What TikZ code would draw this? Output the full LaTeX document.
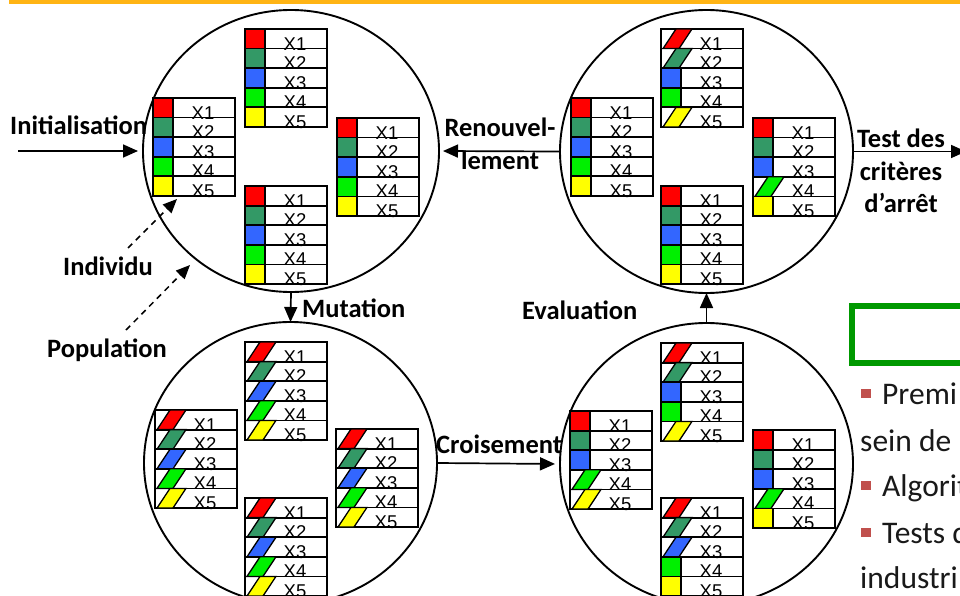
\documentclass[tikz,border=0pt]{standalone}
\usepackage{fontspec}
\setmainfont{Carlito}
\newfontfamily\xfont{Liberation Sans}
\usetikzlibrary{arrows.meta,shapes.geometric}
\definecolor{orangebar}{RGB}{255,180,20}
\definecolor{cr}{RGB}{255,0,0}
\definecolor{cd}{RGB}{51,153,102}
\definecolor{cb}{RGB}{51,102,255}
\definecolor{cg}{RGB}{0,240,0}
\definecolor{cy}{RGB}{255,255,0}
\definecolor{gbox}{RGB}{0,153,0}
\definecolor{bul}{RGB}{192,80,77}
\tikzset{
  tbl/.style={line width=1.8pt, line join=miter},
  xlab/.style={font=\xfont\fontsize{18.5}{20}\selectfont, inner sep=0, anchor=base},
  lbl/.style={font=\bfseries\fontsize{26.5}{30}\selectfont, inner sep=0, anchor=base west},
  lblc/.style={font=\bfseries\fontsize{26.5}{30}\selectfont, inner sep=0, anchor=base},
  body/.style={font=\fontsize{31.5}{36}\selectfont, inner sep=0, anchor=base west, text=black!90},
  arr/.style={line width=1.7pt, -{Triangle[length=15pt,width=13pt]}},
  darr/.style={line width=1.5pt, dash pattern=on 6pt off 5pt, -{Triangle[length=14pt,width=12pt]}},
  pop/.style={ellipse, draw, line width=1.9pt, inner sep=0, outer sep=0},
}
\newcommand\indiv[4]{%
  \foreach \c/\k [count=\i] in {#4} {
    \pgfmathsetmacro\yt{#3+(\i-1)*19.6}
    \pgfmathsetmacro\yb{#3+\i*19.6}
    \if\k n
      \fill[\c] (#2,\yt) rectangle (#2+20,\yb);
      \draw[tbl] (#2,\yt) rectangle (#2+20,\yb) (#2+20,\yt) rectangle (#2+82,\yb);
    \else
      \draw[tbl] (#2,\yt) rectangle (#2+82,\yb);
      \filldraw[fill=\c, line width=1.3pt] (#2+2,\yb) -- (#2+18,\yb) -- (#2+31,\yt) -- (#2+15,\yt) -- cycle;
    \fi
    \node[xlab] (#1-\i) at (#2+50,\yb+1.5) {X\i};
  }%
}
\begin{document}
\begin{tikzpicture}[x=1pt,y=-1pt]
\useasboundingbox (0,0) rectangle (960,596);
\clip (0,0) rectangle (960,596);
\fill[white] (0,0) rectangle (960,596);
\fill[orangebar] (9,0) rectangle (960,4);

% populations
\node[pop, minimum width=296pt, minimum height=282pt] (tl) at (291,151) {};
\node[pop, minimum width=293pt, minimum height=283pt] (tr) at (706.5,151.5) {};
\node[pop, minimum width=293pt, minimum height=282pt] (bl) at (290.5,463) {};
\node[pop, minimum width=293pt, minimum height=282pt] (br) at (706.5,464) {};

% individuals, top-left
\indiv{tla}{153}{98}{cr/n,cd/n,cb/n,cg/n,cy/n}
\indiv{tlb}{245}{29}{cr/n,cd/n,cb/n,cg/n,cy/n}
\indiv{tlc}{337}{118}{cr/n,cd/n,cb/n,cg/n,cy/n}
\indiv{tld}{245}{186}{cr/n,cd/n,cb/n,cg/n,cy/n}
% top-right
\indiv{tra}{571}{98}{cr/n,cd/n,cb/n,cg/n,cy/n}
\indiv{trb}{661}{29}{cr/s,cd/s,cb/n,cg/n,cy/s}
\indiv{trc}{753}{118}{cr/n,cd/n,cb/n,cg/s,cy/n}
\indiv{trd}{661}{186}{cr/n,cd/n,cb/n,cg/n,cy/n}
% bottom-left
\indiv{bla}{155}{410}{cr/s,cd/s,cb/s,cg/s,cy/s}
\indiv{blb}{245}{342}{cr/s,cd/s,cb/s,cg/s,cy/s}
\indiv{blc}{336}{429}{cr/s,cd/s,cb/s,cg/s,cy/s}
\indiv{bld}{245}{498}{cr/s,cd/s,cb/s,cg/s,cy/s}
% bottom-right
\indiv{bra}{570}{411}{cr/n,cd/n,cb/n,cg/s,cy/s}
\indiv{brb}{661}{343}{cr/s,cd/s,cb/n,cg/n,cy/s}
\indiv{brc}{753}{430}{cr/n,cd/n,cb/n,cg/s,cy/n}
\indiv{brd}{661}{498}{cr/s,cd/s,cb/s,cg/n,cy/n}

% connectors
\coordinate (initstart) at (18,151);
\coordinate (testend) at (966,151.5);
\draw[arr, shorten >=5pt] (initstart) -- (tl.west);
\draw[arr, shorten >=4pt] (tr.west) -- (tl.east);
\draw[arr] (tr.east) -- (testend);
\draw[arr] (tl.south) -- (bl.north);
\draw[arr, shorten >=5pt] (bl.east) -- (br.west);
\draw[arr] (br.north) -- (tr.south);
\coordinate (ind0) at (128,248);
\coordinate (ind1) at (177,199);
\coordinate (pop0) at (126,330);
\coordinate (pop1) at (190,265);
\draw[darr] (ind0) -- (ind1);
\draw[darr] (pop0) -- (pop1);

% labels
\node[lbl] (linit) at (10,135) {Initialisation};
\node[lbl] (lind) at (63,275) {Individu};
\node[lbl] (lpop) at (47,357) {Population};
\node[lbl] (lmut) at (302,317) {Mutation};
\node[lbl] (lcro) at (436,453) {Croisement};
\node[lbl] (leva) at (522,319) {Evaluation};
\node[lblc] (lren1) at (500,137) {Renouvel-};
\node[lblc] (lren2) at (500,170) {lement};
\node[lblc] (ltest1) at (901,148) {Test des};
\node[lblc] (ltest2) at (901,180) {critères};
\node[lblc] (ltest3) at (901,212) {d’arrêt};

% right side slide text
\node[draw=gbox, line width=5.5pt, anchor=north west, minimum width=140pt, minimum height=57pt, inner sep=0] (box) at (849,303) {};
\fill[bul] (861,389) rectangle (871,398);
\fill[bul] (861,481) rectangle (871,490);
\fill[bul] (861,528) rectangle (871,537);
\node[body] (t1) at (882,404) {Premi};
\node[body] (t2) at (860,451) {sein de};
\node[body] (t3) at (882,496) {Algorit};
\node[body] (t4) at (882,543) {Tests d};
\node[body] (t5) at (860,588) {industri};
\end{tikzpicture}
\end{document}
